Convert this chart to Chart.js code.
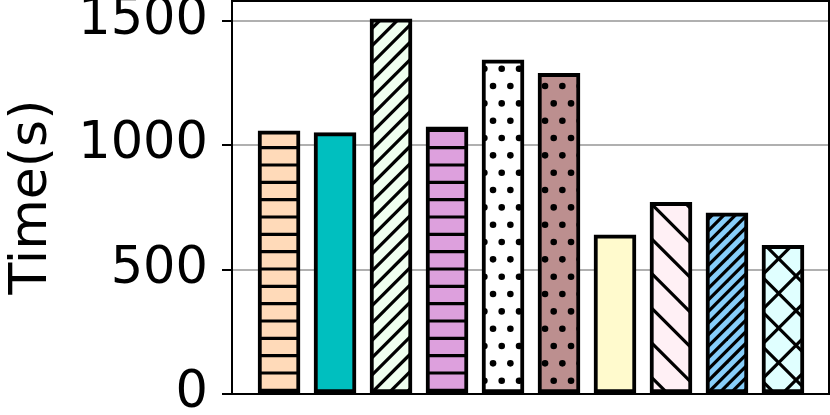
<!DOCTYPE html>
<html>
<head>
<meta charset="utf-8">
<script src="https://cdn.jsdelivr.net/npm/chart.js@4"></script>
<style>
  body { margin: 0; background: #fff; }
</style>
</head>
<body>
<canvas id="timeChart" width="830" height="415"></canvas>
<script>
const categories = ['A', 'B', 'C', 'D', 'E', 'F', 'G', 'H', 'I', 'J'];
const times = [1057, 1050, 1507, 1073, 1342, 1288, 639, 770, 728, 597];
const yTicks = [0, 500, 1000, 1500];

const fills = ['#ffdab9', '#00bfbf', '#f0fff0', '#dda0dd', '#ffffff',
               '#bc8f8f', '#fffacd', '#fff0f5', '#87cefa', '#e0ffff'];
const hatches = ['-', '', '/', '-', '.', '.', '', '\\', '///', 'x'];

// hatch tiles, 104px = one matplotlib hatch unit here
const U = 104;
function makeHatch(bg, kind) {
    const c = document.createElement('canvas');
    c.width = U; c.height = U;
    const g = c.getContext('2d');
    g.fillStyle = bg;
    g.fillRect(0, 0, U, U);
    g.strokeStyle = '#000';
    g.fillStyle = '#000';
    g.lineWidth = 3.2;
    const fwd = (p, ph) => {
        for (let k = -2 * U; k < 3 * U; k += p) {
            const cc = ph + k;
            g.beginPath(); g.moveTo(cc - 2 * U, 2 * U); g.lineTo(cc + 2 * U, -2 * U); g.stroke();
        }
    };
    const back = (p, ph) => {
        for (let k = -2 * U; k < 3 * U; k += p) {
            const cc = ph + k;
            g.beginPath(); g.moveTo(cc - 2 * U, -2 * U); g.lineTo(cc + 2 * U, 2 * U); g.stroke();
        }
    };
    if (kind === '-') {
        for (let y = 9 - U; y < 2 * U; y += U / 6) {
            g.beginPath(); g.moveTo(0, y); g.lineTo(U, y); g.stroke();
        }
    } else if (kind === '/') {
        fwd(U / 6, 1.7);
    } else if (kind === '///') {
        fwd(U / 9, 2.9);
    } else if (kind === '\\') {
        back(U / 3, 31.5);
    } else if (kind === 'x') {
        fwd(U / 3, 32);
        back(U / 3, 0);
    } else if (kind === '.') {
        const p = U / 6;
        for (let r = -1; r < 8; r++) {
            const y = 16.7 + r * p;
            const x0 = (r % 2 === 0) ? 7.7 : 7.7 + p / 2;
            for (let x = x0 - U; x < 2 * U; x += p) {
                g.beginPath(); g.arc(x, y, 3.3, 0, Math.PI * 2); g.fill();
            }
        }
    }
    return g.createPattern(c, 'repeat');
}

const ctx = document.getElementById('timeChart').getContext('2d');
const patterns = fills.map((f, i) => hatches[i] ? makeHatch(f, hatches[i]) : f);

const frame = {
    id: 'frame',
    afterDraw(chart) {
        const a = chart.chartArea, g = chart.ctx;
        g.save();
        g.strokeStyle = '#000';
        g.lineWidth = 2;
        g.beginPath();
        g.moveTo(a.left, a.top + 1);
        g.lineTo(a.right - 1, a.top + 1);
        g.lineTo(a.right - 1, a.bottom);
        g.stroke();
        g.restore();
    }
};

new Chart(ctx, {
    type: 'bar',
    data: {
        datasets: [{
            data: times.map((v, i) => ({ x: i, y: v })),
            backgroundColor: patterns,
            borderColor: '#000',
            borderWidth: 4,
            borderSkipped: false,
            barThickness: 42
        }]
    },
    options: {
        responsive: false,
        animation: false,
        devicePixelRatio: 1,
        layout: { padding: 0 },
        plugins: { legend: { display: false }, tooltip: { enabled: false } },
        scales: {
            x: {
                type: 'linear',
                offset: false,
                min: -0.84,
                max: categories.length - 1 + 0.84,
                ticks: { display: false },
                grid: { display: false, offset: false },
                border: { display: true, color: '#000', width: 2 },
                afterFit(s) { s.height = 21; s.paddingLeft = 0; s.paddingRight = 0; }
            },
            y: {
                min: 0,
                max: Math.max(...times) * 1.05,
                afterBuildTicks(s) { s.ticks = yTicks.map(v => ({ value: v })); },
                ticks: {
                    font: { family: 'DejaVu Sans', size: 51 },
                    color: '#000',
                    padding: 14,
                    callback: v => String(v)
                },
                grid: {
                    color: '#b0b0b0',
                    lineWidth: 2,
                    tickColor: '#000',
                    tickLength: 10,
                    tickWidth: 2
                },
                border: { display: true, color: '#000', width: 2 },
                title: {
                    display: true,
                    text: 'Time(s)',
                    font: { family: 'DejaVu Sans', size: 52 },
                    color: '#000',
                    padding: { top: 1, bottom: 0 }
                },
                afterFit(s) { s.width = 232; s.paddingTop = 0; s.paddingBottom = 0; }
            }
        }
    },
    plugins: [frame]
});
</script>
</body>
</html>
